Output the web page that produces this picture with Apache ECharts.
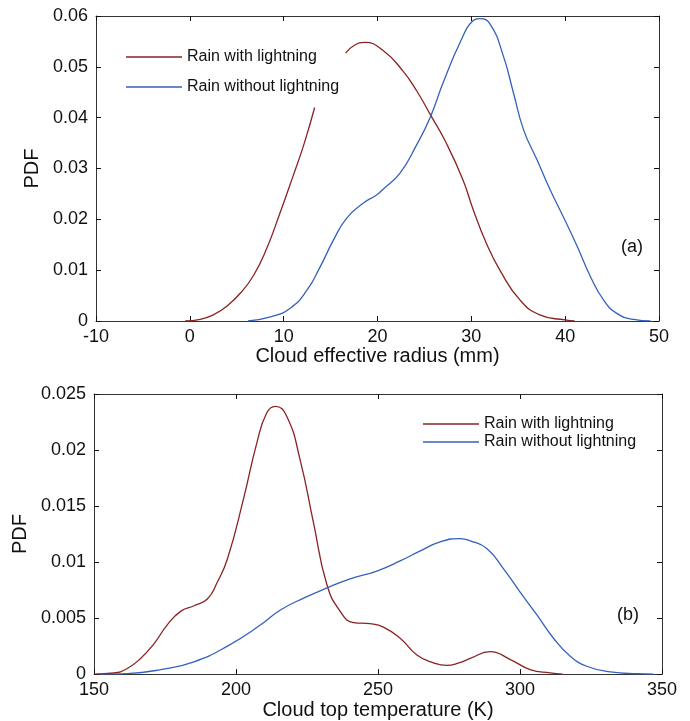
<!DOCTYPE html>
<html>
<head>
<meta charset="utf-8">
<script src="https://cdn.jsdelivr.net/npm/echarts@6/dist/echarts.min.js"></script>
<style>
html,body{margin:0;padding:0;background:#fff;}
#chart{width:690px;height:721px;}
</style>
</head>
<body>
<div id="chart"></div>
<script>
// ---- Panel (a): cloud effective radius ----
const radiusWithX = [-0.5, 1.1, 2.5, 4.0, 5.4, 6.8, 8.2, 9.6, 11.0, 12.2, 13.3, 15, 16.6, 17.5, 18.65, 20.6, 22.7, 24.2, 25.6, 27.3, 29.1, 30.2, 31.6, 33.1, 35.2, 37.3, 40.0, 41];
const radiusWithY = [0, 0.0003, 0.0012, 0.003, 0.0055, 0.009, 0.0143, 0.0212, 0.0285, 0.035, 0.042, null, 0.0527, 0.0542, 0.0548, 0.0532, 0.0492, 0.0452, 0.0407, 0.0351, 0.0278, 0.0219, 0.0153, 0.0098, 0.0041, 0.0012, 0.0002, 0];
const radiusWithoutX = [6.2, 8.6, 10.7, 12.5, 13.9, 15.3, 16.7, 18.5, 19.9, 20.6, 22.4, 24.1, 25.6, 27.0, 28.8, 30.2, 30.9, 32.0, 33.4, 34.5, 35.57, 37.0, 38.4, 39.8, 41.3, 42.7, 44.1, 45.5, 47.3, 49.1];
const radiusWithoutY = [0, 0.0008, 0.0025, 0.0061, 0.0107, 0.0159, 0.0202, 0.0232, 0.0248, 0.0259, 0.0291, 0.0344, 0.04, 0.0469, 0.0548, 0.0591, 0.0595, 0.0584, 0.0522, 0.0448, 0.0376, 0.0317, 0.0258, 0.0205, 0.0146, 0.0087, 0.0041, 0.0015, 0.0003, 0];

// ---- Panel (b): cloud top temperature ----
const tempWithX = [150, 157, 161.7, 166.4, 171.1, 175.8, 180.5, 185.2, 189.9, 193.4, 197.0, 202.6, 207.3, 210.8, 213.8, 217.9, 222.6, 227.3, 232, 236.7, 241.4, 247.2, 251.9, 257.8, 263.7, 269.5, 274.2, 278.5, 282.5, 289.5, 296.6, 303.6, 310.6, 315];
const tempWithY = [0, 0.0001, 0.0005, 0.0014, 0.0027, 0.0044, 0.0056, 0.0061, 0.0067, 0.0082, 0.0103, 0.0156, 0.0206, 0.0233, 0.0239, 0.023, 0.0191, 0.0135, 0.008, 0.0056, 0.0046, 0.0045, 0.0042, 0.0032, 0.0017, 0.001, 0.00077, 0.001, 0.0014, 0.002, 0.0013, 0.0004, 0.0001, 0];
const tempWithoutX = [152, 161.7, 173.5, 185.2, 197.0, 208.7, 215.5, 224.0, 233.1, 240.2, 249.6, 257.8, 264.9, 271.9, 278.9, 282.5, 288.3, 294.2, 300.1, 305.9, 311.8, 317.7, 323.5, 331.8, 341.2, 347];
const tempWithoutY = [0, 0.00005, 0.0004, 0.0011, 0.0025, 0.0044, 0.0057, 0.0068, 0.0078, 0.0085, 0.0092, 0.0101, 0.011, 0.0118, 0.0121, 0.0119, 0.0112, 0.0094, 0.0073, 0.0053, 0.0032, 0.0016, 0.0007, 0.0002, 0.00003, 0];

const seriesNames = ['Rain with lightning', 'Rain without lightning'];
const xTitles = ['Cloud effective radius (mm)', 'Cloud top temperature (K)'];
const yTitle = 'PDF';
const panelLabels = ['(a)', '(b)'];

const RED = '#8b2222';
const BLUE = '#3461bd';
const FONT = "'Liberation Sans', Arial, sans-serif";
const AX = '#333333';

function zip(xs, ys) { return xs.map((x, i) => [x, ys[i] === null ? '-' : ys[i]]); }

function xAx(grid, min, max, interval, pos, name, gap) {
  const main = pos === 'bottom';
  return {
    gridIndex: grid, type: 'value', min, max, interval, position: pos,
    axisLine: { show: true, onZero: false, lineStyle: { color: AX, width: 1 } },
    axisTick: { show: true, inside: true, length: 5, lineStyle: { color: '#111', width: 1 } },
    axisLabel: { show: main, fontSize: 18, color: '#111', margin: 7, fontFamily: FONT },
    splitLine: { show: false },
    name: main ? name : '', nameLocation: 'middle', nameGap: gap,
    nameTextStyle: { fontSize: 20, color: '#111', fontFamily: FONT }
  };
}
function yAx(grid, min, max, interval, pos, gap) {
  const main = pos === 'left';
  return {
    gridIndex: grid, type: 'value', min, max, interval, position: pos,
    axisLine: { show: true, onZero: false, lineStyle: { color: AX, width: 1 } },
    axisTick: { show: true, inside: true, length: 5, lineStyle: { color: '#111', width: 1 } },
    axisLabel: { show: main, fontSize: 18, color: '#111', margin: 8, fontFamily: FONT },
    splitLine: { show: false },
    name: main ? yTitle : '', nameLocation: 'middle', nameGap: gap,
    nameTextStyle: { fontSize: 20, color: '#111', fontFamily: FONT }
  };
}
function line(name, data, color, xi, yi) {
  return {
    type: 'line', name, data, xAxisIndex: xi, yAxisIndex: yi,
    smooth: 0.5, showSymbol: false, connectNulls: false,
    lineStyle: { color, width: 1.3 }, itemStyle: { color }
  };
}

const chart = echarts.init(document.getElementById('chart'), null, { renderer: 'canvas' });
chart.setOption({
  animation: false,
  backgroundColor: '#fff',
  textStyle: { fontFamily: FONT },
  grid: [
    { left: 96, right: 31, top: 16, height: 305 },
    { left: 94, right: 28, top: 394, height: 282 }
  ],
  xAxis: [
    xAx(0, -10, 50, 10, 'bottom', xTitles[0], 24),
    xAx(0, -10, 50, 10, 'top'),
    xAx(1, 150, 350, 50, 'bottom', xTitles[1], 23),
    xAx(1, 150, 350, 50, 'top')
  ],
  yAxis: [
    yAx(0, 0, 0.06, 0.01, 'left', 50),
    yAx(0, 0, 0.06, 0.01, 'right'),
    yAx(1, 0, 0.025, 0.005, 'left', 60),
    yAx(1, 0, 0.025, 0.005, 'right')
  ],
  legend: [
    { data: seriesNames, orient: 'vertical', left: 121, top: 44, itemGap: 14,
      icon: 'rect', itemWidth: 56, itemHeight: 1.5, selectedMode: false,
      textStyle: { fontSize: 16, color: '#111', fontFamily: FONT } },
    { data: seriesNames, orient: 'vertical', left: 418, top: 410, itemGap: 0,
      icon: 'rect', itemWidth: 56, itemHeight: 1.5, selectedMode: false,
      textStyle: { fontSize: 16, color: '#111', fontFamily: FONT, lineHeight: 18 } }
  ],
  graphic: [
    { type: 'text', left: 621, top: 238, style: { text: panelLabels[0], fontSize: 18, fill: '#111', fontFamily: FONT } },
    { type: 'text', left: 617, top: 606, style: { text: panelLabels[1], fontSize: 18, fill: '#111', fontFamily: FONT } }
  ],
  series: [
    line(seriesNames[0], zip(radiusWithX, radiusWithY), RED, 0, 0),
    line(seriesNames[1], zip(radiusWithoutX, radiusWithoutY), BLUE, 0, 0),
    line(seriesNames[0], zip(tempWithX, tempWithY), RED, 2, 2),
    line(seriesNames[1], zip(tempWithoutX, tempWithoutY), BLUE, 2, 2)
  ]
});
</script>
</body>
</html>
